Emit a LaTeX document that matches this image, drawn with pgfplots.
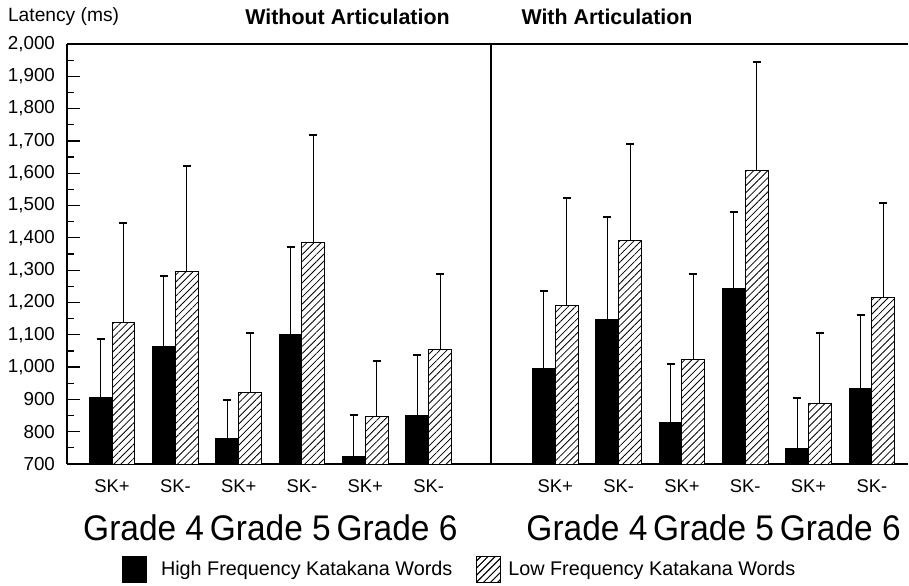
\documentclass[border=0pt]{standalone}
\usepackage{pgfplots}
\pgfplotsset{compat=1.18}
\usepackage{pgfplotstable}
\usepackage{fontspec}
\setmainfont{Liberation Sans}
\usetikzlibrary{patterns.meta}

% x: position (1-6 without articulation, 8-13 with articulation), y: mean latency, e: upper SD
\pgfplotstableread{
x y e
1 907 181
2 1065 218
3 780 118
4 1102 270
5 724 129
6 850 186
8 997 238
9 1147 316
10 830 178
11 1242 239
12 747 158
13 935 227
}\highdata

\pgfplotstableread{
x y e
1 1138 307
2 1297 325
3 922 183
4 1385 332
5 846 172
6 1053 236
8 1192 330
9 1393 297
10 1023 264
11 1607 338
12 887 217
13 1215 293
}\lowdata

\newcommand{\grade}[1]{\scalebox{0.94}[1]{Grade #1}}

\begin{document}
\begin{tikzpicture}
\useasboundingbox (0,0) rectangle (454.5pt,292.5pt);
\begin{axis}[
  at={(33.5pt,60.5pt)}, anchor=south west,
  scale only axis, width=420.5pt, height=210pt,
  xmin=0.289, xmax=13.57, ymin=700, ymax=2000,
  axis lines*=left,
  axis line style={line width=0.8pt, black},
  ybar, bar width=0.36,
  clip mode=individual,
  ytick={700,800,...,2000}, minor y tick num=1,
  tick align=inside, major tick length=6.5pt, minor tick length=3.3pt,
  y tick style={line width=0.6pt, black},
  scaled y ticks=false,
  /pgf/number format/assume math mode=true,
  /pgf/number format/1000 sep={,},
  yticklabel style={font=\fontsize{9.4pt}{11pt}\selectfont, xshift=-2.5pt},
  xtick={1,2,3,4,5,6,8,9,10,11,12,13},
  xticklabels={SK+,SK-,SK+,SK-,SK+,SK-,SK+,SK-,SK+,SK-,SK+,SK-},
  x tick style={draw=none},
  xticklabel style={font=\fontsize{9.2pt}{11pt}\selectfont, yshift=-4.5pt},
  extra x ticks={1.5,3.5,5.5,8.5,10.5,12.5},
  extra x tick labels={\grade{4},\grade{5},\grade{6},\grade{4},\grade{5},\grade{6}},
  extra x tick style={major tick length=0pt, tick style={draw=none},
    xticklabel style={font=\fontsize{17.8pt}{21pt}\selectfont, yshift=-17.3pt}},
  legend style={at={(0.468,-0.252)}, anchor=center, draw=none, fill=none,
    legend columns=2, font=\fontsize{9.9pt}{12pt}\selectfont,
    /tikz/every even column/.append style={column sep=10pt}},
  legend cell align=left,
]
\addplot[fill=black, draw=black, line width=0.5pt, bar shift=-0.18,
  legend image code/.code={\draw[fill=black,draw=black] (0pt,-6.5pt) rectangle (12pt,6.5pt);},
  error bars/.cd, y dir=plus, y explicit,
  error bar style={line width=0.5pt, black},
  error mark options={rotate=90, line width=1pt, mark size=2pt, black}]
  table[x=x, y=y, y error=e]{\highdata};
\addlegendentry{\hspace{5pt}High Frequency Katakana Words}
\addplot[fill=white, draw=black, line width=0.5pt, bar shift=0.18,
  postaction={pattern={Lines[angle=45,distance=2.5pt,line width=0.4pt]}},
  legend image code/.code={\draw[fill=white,draw=black,line width=0.5pt,
    postaction={pattern={Lines[angle=45,distance=2.5pt,line width=0.4pt]}}] (0pt,-6.5pt) rectangle (12pt,6.5pt);},
  error bars/.cd, y dir=plus, y explicit,
  error bar style={line width=0.5pt, black},
  error mark options={rotate=90, line width=1pt, mark size=2pt, black}]
  table[x=x, y=y, y error=e]{\lowdata};
\addlegendentry{\hspace{1.5pt}Low Frequency Katakana Words}
\draw[line width=0.8pt] (rel axis cs:0,1) -- (rel axis cs:1,1);
\draw[line width=0.8pt] (axis cs:6.98,700) -- (axis cs:6.98,2000);
\node[anchor=west, font=\fontsize{9.6pt}{11pt}\selectfont, xshift=-33pt, yshift=13.5pt] at (rel axis cs:0,1) {Latency (ms)};
\node[anchor=center, font=\fontsize{10.7pt}{13pt}\selectfont\bfseries, xshift=140.25pt, yshift=13.5pt] at (rel axis cs:0,1) {Without Articulation};
\node[anchor=center, font=\fontsize{10.7pt}{13pt}\selectfont\bfseries, xshift=270pt, yshift=13.5pt] at (rel axis cs:0,1) {With Articulation};
\end{axis}
\end{tikzpicture}
\end{document}
